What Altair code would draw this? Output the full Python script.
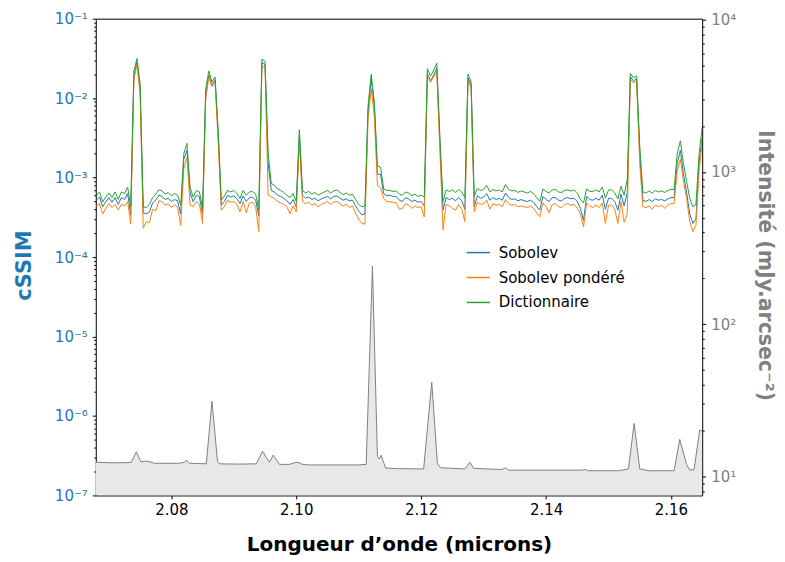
import altair as alt
import pandas as pd

# ---------------- data ----------------
wavelength = [
    2.0680, 2.0685, 2.0690, 2.0695, 2.0700, 2.0705, 2.0710, 2.0715, 2.0720, 2.0725,
    2.0730, 2.0735, 2.0740, 2.0745, 2.0750, 2.0755, 2.0760, 2.0765, 2.0770, 2.0775,
    2.0780, 2.0785, 2.0790, 2.0795, 2.0800, 2.0805, 2.0810, 2.0815, 2.0820, 2.0825,
    2.0830, 2.0835, 2.0840, 2.0845, 2.0850, 2.0855, 2.0860, 2.0865, 2.0870, 2.0875,
    2.0880, 2.0885, 2.0890, 2.0895, 2.0900, 2.0905, 2.0910, 2.0915, 2.0920, 2.0925,
    2.0930, 2.0935, 2.0940, 2.0945, 2.0950, 2.0955, 2.0960, 2.0965, 2.0970, 2.0975,
    2.0980, 2.0985, 2.0990, 2.0995, 2.1000, 2.1005, 2.1010, 2.1015, 2.1020, 2.1025,
    2.1030, 2.1035, 2.1040, 2.1045, 2.1050, 2.1055, 2.1060, 2.1065, 2.1070, 2.1075,
    2.1080, 2.1085, 2.1090, 2.1095, 2.1100, 2.1105, 2.1110, 2.1115, 2.1120, 2.1125,
    2.1130, 2.1135, 2.1140, 2.1145, 2.1150, 2.1155, 2.1160, 2.1165, 2.1170, 2.1175,
    2.1180, 2.1185, 2.1190, 2.1195, 2.1200, 2.1205, 2.1210, 2.1215, 2.1220, 2.1225,
    2.1230, 2.1235, 2.1240, 2.1245, 2.1250, 2.1255, 2.1260, 2.1265, 2.1270, 2.1275,
    2.1280, 2.1285, 2.1290, 2.1295, 2.1300, 2.1305, 2.1310, 2.1315, 2.1320, 2.1325,
    2.1330, 2.1335, 2.1340, 2.1345, 2.1350, 2.1355, 2.1360, 2.1365, 2.1370, 2.1375,
    2.1380, 2.1385, 2.1390, 2.1395, 2.1400, 2.1405, 2.1410, 2.1415, 2.1420, 2.1425,
    2.1430, 2.1435, 2.1440, 2.1445, 2.1450, 2.1455, 2.1460, 2.1465, 2.1470, 2.1475,
    2.1480, 2.1485, 2.1490, 2.1495, 2.1500, 2.1505, 2.1510, 2.1515, 2.1520, 2.1525,
    2.1530, 2.1535, 2.1540, 2.1545, 2.1550, 2.1555, 2.1560, 2.1565, 2.1570, 2.1575,
    2.1580, 2.1585, 2.1590, 2.1595, 2.1600, 2.1605, 2.1610, 2.1615, 2.1620, 2.1625,
    2.1630, 2.1635, 2.1640, 2.1645, 2.1650,
]

# cSSIM values in units of 1e-4
sobolev = [
    5.2, 5.7, 4.3, 4.95, 5.6, 4.9, 5.6, 4.6, 5.6, 5.3,
    6.3, 3.4, 190, 285, 130, 3.6, 3.5, 3.7, 4.8, 5.2,
    6.0, 5.8, 5.3, 5.5, 5.0, 5.3, 5.1, 3.5, 17, 22,
    6.5, 4.95, 6.0, 5.7, 3.4, 110, 195, 145, 170, 35,
    4.5, 5.0, 6.0, 5.7, 5.9, 5.4, 4.7, 5.9, 5.0, 5.6,
    5.7, 5.2, 3.3, 280, 265, 15, 6.9, 6.6, 6.0, 5.8,
    5.5, 5.1, 4.6, 5.3, 4.3, 34, 6.0, 5.5, 5.7, 5.3,
    5.5, 5.1, 5.4, 5.6, 5.8, 5.4, 5.8, 5.9, 5.5, 5.2,
    5.4, 5.1, 5.2, 4.4, 3.8, 3.4, 3.5, 70, 175, 80,
    11, 11, 6.3, 5.9, 6.0, 5.8, 5.8, 5.2, 5.0, 5.6,
    5.4, 5.0, 5.2, 4.9, 5.0, 4.4, 205, 165, 195, 240,
    28, 3.9, 5.6, 5.3, 5.5, 5.1, 5.6, 5.1, 4.0, 180,
    145, 4.3, 5.9, 5.5, 5.7, 6.3, 5.2, 5.6, 5.3, 5.5,
    5.2, 6.4, 5.6, 5.3, 5.4, 5.1, 5.3, 5.1, 5.0, 5.2,
    4.9, 4.3, 3.9, 5.8, 5.3, 5.0, 5.6, 5.6, 5.2, 5.1,
    5.5, 5.6, 5.4, 5.5, 5.0, 4.1, 2.9, 5.8, 5.3, 5.2,
    5.5, 5.2, 6.0, 4.0, 5.5, 5.5, 5.0, 3.9, 6.2, 4.4,
    6.5, 185, 165, 175, 20, 5.2, 5.0, 5.3, 5.0, 5.4,
    5.2, 5.3, 5.1, 5.4, 5.6, 5.6, 15, 22, 11, 6.5,
    3.5, 2.65, 3.0, 15, 32,
]

sobolev_pondere = [
    4.4, 4.7, 3.5, 4.1, 4.7, 4.2, 4.6, 3.9, 4.6, 4.4,
    5.0, 2.6, 170, 265, 110, 2.3, 2.8, 2.7, 4.0, 3.8,
    5.1, 5.0, 4.5, 4.7, 4.2, 4.5, 4.3, 2.5, 13, 18,
    4.5, 4.3, 5.0, 4.6, 2.65, 95, 185, 140, 160, 28,
    3.9, 4.3, 5.2, 4.9, 5.0, 4.6, 3.7, 5.0, 3.6, 4.8,
    4.9, 4.3, 2.1, 250, 245, 6, 5.7, 5.5, 5.0, 4.8,
    4.6, 4.3, 3.5, 4.4, 3.7, 28, 5.0, 4.7, 4.9, 4.5,
    4.7, 4.3, 4.6, 4.8, 5.0, 4.6, 4.9, 5.0, 4.7, 4.4,
    4.6, 4.2, 4.4, 3.6, 3.0, 2.65, 2.6, 55, 130, 60,
    8, 7.5, 5.45, 5.0, 4.95, 4.9, 4.8, 4.0, 4.1, 4.7,
    4.5, 4.1, 4.4, 4.2, 4.3, 3.2, 195, 158, 185, 215,
    22, 2.2, 4.6, 4.4, 4.1, 3.9, 4.6, 4.0, 2.8, 170,
    135, 3.7, 4.9, 4.6, 4.7, 5.2, 4.0, 4.7, 4.5, 4.6,
    4.3, 5.3, 4.7, 4.5, 4.6, 4.3, 4.4, 4.3, 4.2, 4.4,
    4.1, 3.6, 3.2, 4.8, 4.3, 3.6, 4.6, 4.7, 4.3, 4.2,
    4.6, 4.7, 4.5, 4.6, 4.1, 3.5, 2.4, 4.8, 4.4, 4.2,
    4.5, 4.2, 4.8, 2.65, 4.5, 4.5, 4.0, 2.65, 5.0, 2.75,
    3.5, 175, 155, 165, 15, 4.3, 4.2, 4.4, 4.0, 4.5,
    4.3, 4.5, 4.1, 4.5, 4.7, 4.7, 12, 17, 9, 5.5,
    2.8, 2.1, 2.5, 12, 29,
]

dictionnaire = [
    6.0, 6.6, 4.95, 5.7, 6.4, 5.6, 6.6, 5.3, 6.6, 6.3,
    7.6, 4.4, 220, 315, 150, 4.3, 4.2, 4.6, 5.6, 6.2,
    7.0, 6.8, 6.2, 6.5, 5.9, 6.3, 6.0, 4.5, 20, 27,
    7.5, 5.7, 6.9, 6.6, 4.1, 130, 220, 160, 185, 40,
    5.2, 5.9, 6.9, 6.6, 6.9, 6.3, 5.45, 6.9, 6.0, 6.6,
    6.7, 6.2, 4.0, 310, 290, 20, 8.45, 8.0, 7.2, 6.9,
    6.5, 6.0, 5.6, 6.3, 5.0, 40, 6.9, 6.4, 6.7, 6.2,
    6.5, 6.0, 6.3, 6.6, 6.9, 6.4, 6.8, 7.0, 6.5, 6.1,
    6.4, 6.0, 6.2, 5.3, 4.6, 4.3, 4.4, 80, 200, 90,
    14, 13.5, 7.2, 6.9, 6.9, 6.7, 6.8, 6.2, 6.0, 6.6,
    6.4, 5.9, 6.2, 5.8, 6.0, 5.7, 235, 190, 225, 275,
    33, 5.0, 7.0, 6.7, 7.0, 6.5, 7.1, 6.6, 5.6, 200,
    160, 5.8, 7.3, 6.9, 7.1, 8.0, 6.6, 7.1, 6.8, 7.0,
    6.6, 8.2, 7.1, 6.8, 6.9, 6.5, 6.8, 6.6, 6.4, 6.7,
    6.3, 5.6, 5.0, 7.2, 6.7, 6.4, 7.0, 7.1, 6.6, 6.5,
    6.9, 7.0, 6.8, 7.0, 6.4, 5.3, 4.8, 7.2, 6.7, 6.7,
    7.0, 6.6, 7.6, 5.5, 7.0, 7.0, 6.4, 5.4, 7.8, 6.0,
    9.5, 205, 180, 190, 25, 6.6, 6.4, 6.8, 6.4, 6.9,
    6.6, 6.8, 6.5, 6.9, 7.1, 7.1, 20, 29, 15, 9,
    5.5, 4.3, 4.6, 20, 43,
]

# Intensity spectrum (mJy.arcsec^-2)
int_wavelength = [
    2.0679, 2.0702, 2.0726, 2.0736, 2.0744, 2.0751, 2.0762, 2.0773, 2.0813, 2.0821,
    2.0824, 2.0829, 2.0856, 2.0865, 2.0874, 2.0877, 2.0909, 2.0936, 2.0946, 2.0957,
    2.0963, 2.0973, 2.0989, 2.1000, 2.1005, 2.1010, 2.1021, 2.1101, 2.1112, 2.1122,
    2.1130, 2.1133, 2.1136, 2.1143, 2.1164, 2.1204, 2.1217, 2.1226, 2.1231, 2.1270,
    2.1278, 2.1284, 2.1329, 2.1335, 2.1340, 2.1457, 2.1463, 2.1468, 2.1516, 2.1532,
    2.1541, 2.1550, 2.1564, 2.1605, 2.1614, 2.1625, 2.1630, 2.1637, 2.1646, 2.1650,
]
intensity = [
    12.4, 12.3, 12.3, 12.4, 14.5, 12.5, 12.6, 12.2, 12.2, 12.4,
    12.8, 12.2, 12.1, 31.2, 12.5, 12.1, 12.05, 12.1, 14.6, 12.4,
    13.8, 12.0, 12.0, 12.4, 12.3, 12.0, 11.9, 11.9, 12.0, 241,
    13.5, 13.0, 13.8, 11.35, 11.25, 11.2, 41.5, 12.2, 11.4, 11.2,
    12.4, 11.3, 11.1, 11.4, 11.0, 11.0, 11.1, 10.9, 10.9, 11.2,
    22.3, 11.2, 10.9, 10.9, 17.5, 12.0, 11.0, 11.1, 20.1, 20.0,
]

methods = ["Sobolev", "Sobolev pondéré", "Dictionnaire"]
colors = ["#1f77b4", "#ff7f0e", "#2ca02c"]

left_major = [1e-7, 1e-6, 1e-5, 1e-4, 1e-3, 1e-2, 1e-1]
right_major = [10, 100, 1000, 10000]

# ---------------- tables ----------------
rows = []
for name, vals in zip(methods, [sobolev, sobolev_pondere, dictionnaire]):
    for w, v in zip(wavelength, vals):
        rows.append({"lambda": w, "cssim": v * 1e-4, "method": name})
df = pd.DataFrame(rows)
df_int = pd.DataFrame({"lambda": int_wavelength, "intensity": intensity})

left_ticks = []
for m in left_major[:-1]:
    left_ticks += [m * k for k in range(1, 10)]
left_ticks.append(left_major[-1])
right_ticks = [8, 9]
for m in right_major[:-1]:
    right_ticks += [m * k for k in range(1, 10)]
right_ticks.append(right_major[-1])

LOG = "(log(datum.value)/LN10)"
IS_MAJOR = f"abs({LOG} - round({LOG})) < 0.001"
SUP = "['⁰','¹','²','³','⁴','⁵','⁶','⁷','⁸','⁹']"
LABEL = f"{IS_MAJOR} ? '10' + (round({LOG}) < 0 ? '⁻' : '') + {SUP}[abs(round({LOG}))] : ''"
TICKSIZE = {"condition": {"test": IS_MAJOR, "value": 3.5}, "value": 2}

FONT = "DejaVu Sans"

x_enc = alt.X(
    "lambda:Q",
    scale=alt.Scale(domain=[2.0679, 2.1650], nice=False, zero=False),
    axis=alt.Axis(
        values=[2.08, 2.10, 2.12, 2.14, 2.16], format=".2f",
        title="Longueur d’onde (microns)", titleFontSize=20, titleFontWeight="bold",
        titleFont=FONT, titleColor="black", titleX=304, titleY=55,
        titleBaseline="alphabetic", titleAlign="center",
        labelFont=FONT, labelFontSize=15, labelColor="black", labelPadding=4,
        tickSize=3.5, tickColor="black", tickWidth=1, domain=False, grid=False,
        labelFlush=False,
    ),
)

area = alt.Chart(df_int).mark_area(
    color="#e8e8e8", opacity=1, clip=True,
    line=alt.OverlayMarkDef(color="#808080", strokeWidth=1),
).encode(
    x=x_enc,
    y=alt.Y(
        "intensity:Q",
        scale=alt.Scale(type="log", domain=[7.5, 10150], nice=False),
        axis=alt.Axis(
            orient="right", values=right_ticks, labelExpr=LABEL,
            labelColor="#808080", labelFont=FONT, labelFontSize=15,
            labelPadding=5, labelOverlap=False,
            tickColor="black", tickWidth=1, tickSize=TICKSIZE,
            domain=False, grid=False,
            title="Intensité (mJy.arcsec⁻²)", titleColor="#808080",
            titleFont=FONT, titleFontSize=20.5, titleFontWeight="bold",
            titleAngle=90, titleX=56, titleY=247, titleAlign="center",
            titleBaseline="alphabetic",
        ),
    ),
    y2=alt.datum(7.5),
)

lines = alt.Chart(df).mark_line(strokeWidth=1, clip=True).encode(
    x=x_enc,
    y=alt.Y(
        "cssim:Q",
        scale=alt.Scale(type="log", domain=[1e-7, 1e-1], nice=False),
        axis=alt.Axis(
            orient="left", values=left_ticks, labelExpr=LABEL,
            labelColor="#1f77b4", labelFont=FONT, labelFontSize=15,
            labelPadding=5, labelOverlap=False,
            tickColor="black", tickWidth=1, tickSize=TICKSIZE,
            domain=False, grid=False,
            title="cSSIM", titleColor="#1f77b4", titleFont=FONT,
            titleFontSize=21, titleFontWeight="bold",
            titleAngle=-90, titleX=-65, titleY=247, titleAlign="center",
            titleBaseline="alphabetic",
        ),
    ),
    color=alt.Color(
        "method:N",
        scale=alt.Scale(domain=methods, range=colors),
        sort=methods,
        legend=alt.Legend(
            title=None, orient="none", legendX=371, legendY=222, padding=0,
            symbolType="stroke", symbolSize=545, symbolStrokeWidth=1.5,
            labelFont=FONT, labelFontSize=15, labelColor="black",
            labelOffset=8, rowPadding=4,
        ),
    ),
    order=alt.Order("method_order:Q"),
).transform_calculate(
    method_order="indexof(['Sobolev','Sobolev pondéré','Dictionnaire'], datum.method)"
)

chart = alt.layer(area, lines).resolve_scale(y="independent").properties(
    width=608, height=478,
    padding={"left": 88, "top": 10, "right": 75, "bottom": 62},
    autosize=alt.AutoSizeParams(type="none"),
    background="white",
).configure_view(stroke="black", strokeWidth=1)

chart.save("out.html", embed_options={"renderer": "svg", "actions": False})
